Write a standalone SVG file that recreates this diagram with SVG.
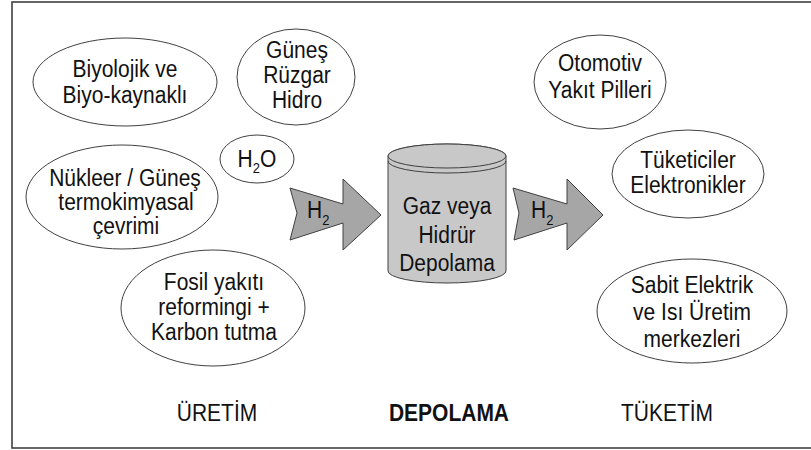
<svg xmlns="http://www.w3.org/2000/svg" width="811" height="450" viewBox="0 0 811 450">
<style>
.bg{fill:#ffffff}
.frame{fill:none;stroke:#404040;stroke-width:1.6}
.node{fill:#ffffff;stroke:#404040;stroke-width:1}
.t,.lbl,.h{font-family:"Liberation Sans",Arial,sans-serif;fill:#111111;transform-box:fill-box;transform-origin:center;transform:scaleY(1.12)}
.t{font-size:21px;text-anchor:middle}
.lbl{font-size:21px;text-anchor:middle}
.b{font-weight:bold}
.cyl{fill:#c8c8c8;stroke:#404040;stroke-width:1}
.cylline{fill:none;stroke:#404040;stroke-width:1}
.arr{fill:#a6a6a6;stroke:#404040;stroke-width:1}
.h{font-size:21px}
.sub{font-size:13px}
</style>
<rect class="bg" x="0" y="0" width="811" height="450"/>
<rect class="frame" x="12" y="2" width="820" height="446"/>

<g id="biyolojik">
<ellipse class="node" cx="125" cy="82" rx="92" ry="44"/>
<text class="t" x="125" y="76">Biyolojik ve</text>
<text class="t" x="125" y="102">Biyo-kaynaklı</text>
</g>
<g id="gunes">
<ellipse class="node" cx="296" cy="77" rx="59" ry="48"/>
<text class="t" x="297" y="57">Güneş</text>
<text class="t" x="297" y="82">Rüzgar</text>
<text class="t" x="297" y="107">Hidro</text>
</g>
<g id="h2o">
<ellipse class="node" cx="257" cy="159" rx="37" ry="24"/>
<text class="t" x="257" y="166">H<tspan class="sub" dy="6">2</tspan><tspan dy="-6">O</tspan></text>
</g>
<g id="nukleer">
<ellipse class="node" cx="122" cy="197" rx="96" ry="52"/>
<text class="t" x="125" y="185">Nükleer / Güneş</text>
<text class="t" x="126" y="209">termokimyasal</text>
<text class="t" x="126" y="233">çevrimi</text>
</g>
<g id="fosil">
<ellipse class="node" cx="213" cy="308" rx="92" ry="58"/>
<text class="t" x="214" y="289">Fosil yakıtı</text>
<text class="t" x="214" y="314">reformingi +</text>
<text class="t" x="214" y="339">Karbon tutma</text>
</g>
<g id="otomotiv">
<ellipse class="node" cx="600" cy="82" rx="66" ry="47"/>
<text class="t" x="600" y="70">Otomotiv</text>
<text class="t" x="600" y="97">Yakıt Pilleri</text>
</g>
<g id="tuketiciler">
<ellipse class="node" cx="688" cy="174" rx="76" ry="44"/>
<text class="t" x="688" y="167">Tüketiciler</text>
<text class="t" x="688" y="192">Elektronikler</text>
</g>
<g id="sabit">
<ellipse class="node" cx="692" cy="311" rx="95" ry="52"/>
<text class="t" x="692" y="292">Sabit Elektrik</text>
<text class="t" x="692" y="319">ve Isı Üretim</text>
<text class="t" x="692" y="346">merkezleri</text>
</g>
<g id="depolama">
<path class="cyl" d="M388,156 L388,271 A59,12 0 0 0 506,271 L506,156 A59,12 0 0 0 388,156 Z"/>
<ellipse class="cyl" cx="447" cy="156" rx="59" ry="12"/>
<path class="cylline" d="M388,161 A59,12 0 0 0 506,161"/>
<text class="t" x="447" y="213">Gaz veya</text>
<text class="t" x="447" y="242">Hidrür</text>
<text class="t" x="447" y="270">Depolama</text>
</g>
<g id="connectors">
<g id="arrow-in">
<polygon class="arr" points="290,188 343,204 343,179 381,215 343,250 343,223 290,240 297,213"/>
<text class="h" x="307" y="217">H<tspan class="sub" dy="7">2</tspan></text>
</g>
<g id="arrow-out">
<polygon class="arr" points="513,188 567,204 567,179 603,215 567,250 567,223 514,240 519,213"/>
<text class="h" x="531" y="217">H<tspan class="sub" dy="7">2</tspan></text>
</g>
</g>
<g id="labels">
<text class="lbl" x="217" y="420">ÜRETİM</text>
<text class="lbl b" x="449" y="420">DEPOLAMA</text>
<text class="lbl" x="667" y="420">TÜKETİM</text>
</g>
</svg>
